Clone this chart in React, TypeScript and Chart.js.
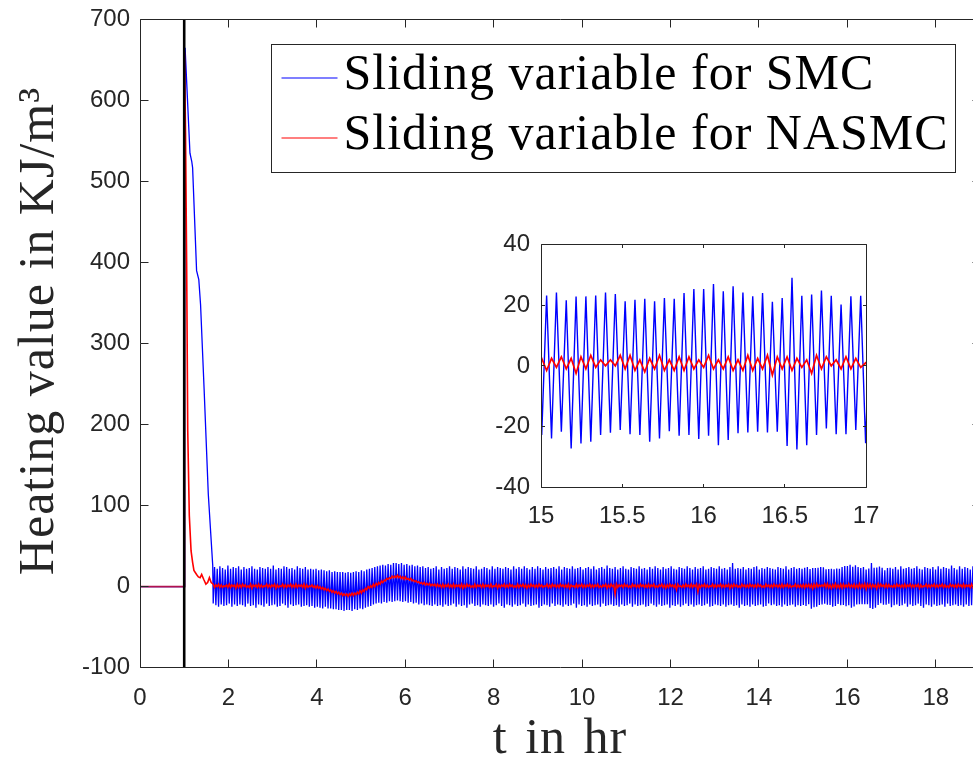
import React, { useEffect, useRef } from 'react';
import { Chart, registerables } from 'chart.js';

Chart.register(...registerables);

// ---------- text ----------
const smcLabel = 'Sliding variable for SMC';
const nasmcLabel = 'Sliding variable for NASMC';
const xTitle = 't in hr';
const yTitle = 'Heating value in KJ/m³';

// ---------- ticks ----------
const mainXTicks = [0, 2, 4, 6, 8, 10, 12, 14, 16, 18];
const mainYTicks = [-100, 0, 100, 200, 300, 400, 500, 600, 700];
const insetXTicks = [15, 15.5, 16, 16.5, 17];
const insetYTicks = [-40, -20, 0, 20, 40];

// ---------- data ----------
// switching instant (vertical black line)
const markerT = 1;

// transient part (t in hr, value)
const smcLeadT = [0, 1.0, 1.01, 1.02, 1.13, 1.17, 1.19, 1.28, 1.33, 1.37, 1.45, 1.545, 1.645];
const smcLeadV = [0, 0, 600, 665, 535, 525, 517, 390, 379, 348, 244, 114, 26];

const nasmcLeadT = [0, 1.0, 1.005, 1.03, 1.055, 1.08, 1.115, 1.155, 1.19, 1.22, 1.28, 1.32, 1.36, 1.395, 1.44, 1.49, 1.53, 1.57, 1.61];
const nasmcLeadV = [0, 0, 660, 560, 400, 192, 88, 44, 30, 20, 15, 12, 11, 15, 9, 3, 5, 11, 5];

// steady part: samples every half-period of the chattering, starting at swingStart
const swingStart = 1.656;
const swingStep = 0.0302;

const smcSwing = [
  -21, 24, -23, 22, -25, 25, -22, 23, -24, 21, -23, 26, -21, 22, -25, 24, -22, 23, -24, 25,
  -22, 21, -23, 24, -25, 22, -21, 23, -24, 25, -23, 22, -26, 21, -22, 24, -23, 23, -25, 22,
  -21, 24, -24, 22, -23, 26, -22, 21, -25, 23, -24, 22, -21, 25, -23, 24, -26, 22, -22, 23,
  -24, 21, -23, 25, -22, 23, -25, 22, -24, 24, -23, 21, -25, 22, -24, 21, -26, 22, -25, 20,
  -26, 21, -27, 20, -25, 19, -27, 20, -27, 18, -28, 19, -28, 18, -29, 18, -29, 18, -30, 17,
  -29, 18, -29, 17, -30, 18, -28, 19, -29, 18, -27, 20, -28, 19, -26, 21, -25, 22, -24, 23,
  -22, 24, -21, 25, -20, 26, -21, 27, -19, 26, -20, 28, -18, 27, -19, 29, -18, 29, -17, 28,
  -18, 29, -19, 27, -18, 28, -20, 26, -19, 27, -21, 25, -20, 26, -22, 24, -21, 25, -23, 23,
  -22, 24, -23, 22, -24, 23, -22, 25, -24, 21, -23, 24, -25, 22, -22, 23, -24, 25, -23, 22,
  -21, 24, -25, 23, -22, 21, -24, 25, -23, 22, -26, 24, -22, 23, -21, 22, -24, 25, -23, 21,
  -25, 22, -22, 24, -23, 23, -24, 21, -22, 25, -25, 22, -23, 24, -21, 23, -24, 22, -26, 24,
  -22, 23, -23, 21, -25, 25, -22, 22, -24, 24, -23, 22, -21, 25, -25, 23, -22, 21, -24, 24,
  -23, 22, -22, 25, -26, 23, -24, 21, -22, 24, -23, 22, -25, 23, -21, 24, -24, 22, -22, 25,
  -23, 21, -25, 24, -22, 23, -24, 22, -23, 25, -21, 22, -26, 23, -22, 24, -24, 21, -23, 23,
  -25, 24, -22, 22, -24, 25, -23, 21, -22, 23, -25, 24, -21, 22, -24, 26, -23, 23, -22, 22,
  -24, 24, -23, 21, -25, 23, -22, 25, -24, 22, -23, 21, -21, 24, -25, 23, -22, 22, -24, 25,
  -23, 22, -22, 23, -25, 21, -24, 24, -21, 22, -23, 25, -25, 23, -22, 21, -24, 24, -23, 22,
  -22, 23, -26, 25, -23, 22, -24, 21, -22, 24, -25, 23, -23, 22, -21, 25, -24, 23, -22, 21,
  -25, 24, -23, 22, -22, 23, -24, 25, -23, 21, -21, 22, -25, 24, -24, 23, -22, 22, -23, 25,
  -24, 22, -22, 23, -25, 21, -23, 24, -22, 29, -24, 22, -23, 23, -26, 22, -22, 24, -24, 21,
  -23, 23, -25, 22, -22, 24, -24, 25, -23, 21, -22, 23, -25, 22, -24, 24, -21, 23, -23, 22,
  -22, 21, -24, 24, -23, 23, -25, 22, -22, 25, -24, 21, -23, 23, -22, 24, -25, 22, -23, 23,
  -24, 22,
  // 15 to 17 hr (inset window)
  -22.8, 23.2, -23.9, 24.2, -21.7, 21.6, -27.2, 22.9, -25.6, 22.9, -25.0, 23.2, -22.8, 24.2, -22.0, 23.7,
  -21.1, 21.3, -22.5, 21.8, -22.8, 22.1, -25.0, 21.3, -23.9, 22.4, -21.5, 22.1, -23.0, 24.0, -22.8, 25.3,
  -24.1, 25.3, -23.0, 27.0, -26.1, 24.6, -24.4, 26.2, -22.2, 24.2, -21.9, 22.9, -21.7, 24.0, -21.9, 21.1,
  -21.7, 22.4, -26.4, 29.0, -27.5, 23.1, -26.1, 23.5, -22.8, 24.8, -20.6, 23.1, -22.5, 20.2, -22.5, 22.9,
  -21.1, 23.1, -25.5,
  22, -23, 24, -22, 21, -24, 25, -23, 22, -21, 23,
  -25, 24, -22, 22, -24, 23, -23, 25, -21, 22, -24, 21, -26, 24, -22, 23, -23, 22, -25, 24,
  -22, 21, -24, 25, -23, 22, -22, 24, -25, 23, -21, 22, -24, 26, -23, 23, -22, 21, -24, 25,
  -23, 22, -25, 24, -22, 23, -24, 21, -23, 25, -26, 22, -22, 24, -23,
];

const nasmcSwing = [
  3, -1, 2, 0, 3, -1, 2, -1, 1, 0, 2, -1, 3, -1, 2, 0, 2, -2, 3, -1,
  2, -1, 3, 0, 2, -1, 1, -1, 3, -2, 2, 0, 2, -1, 3, -1, 2, -1, 1, 0,
  3, -1, 2, -1, 2, 0, 3, -2, 2, -1, 1, 0, 3, -1, 2, -1, 2, 0, 3, -1,
  2, -1, 3, -1, 2, 0, 2, -1, 3, -2, 2, -1, 1, 0, 2, -1, 1, -2, 1, -2,
  0, -3, -1, -4, -2, -5, -3, -6, -4, -7, -5, -8, -6, -9, -7, -10, -8, -11, -9, -11,
  -9, -12, -9, -11, -8, -11, -8, -10, -7, -9, -5, -8, -4, -6, -2, -4, 0, -2, 1, -1,
  3, 0, 4, 2, 5, 3, 7, 5, 8, 7, 10, 9, 11, 10, 13, 11, 13, 11, 14, 11,
  13, 10, 12, 9, 12, 9, 10, 8, 10, 7, 8, 6, 7, 5, 6, 4, 5, 3, 5, 2,
  4, 2, 4, 1, 3, 1, 3, 0, 3, 0, 2, -1, 3, -1, 2, 0, 3, -1, 2, -1,
  3, -1, 2, 0, 2, -1, 3, -2, 2, -1, 3, 0, 2, -1, 1, -1, 3, -1, 2, 0,
  2, -1, 3, -1, 2, 0, 2, -1, 3, -1, 1, 0, 3, -2, 2, -1, 2, 0, 3, -1,
  2, -1, 3, 0, 2, -1, 1, -1, 3, -1, 2, 0, 3, -1, 2, -2, 2, -1, 3, 0,
  2, -1, 2, -1, 3, 0, 2, -1, 1, 0, 3, -1, 2, -1, 3, 0, 2, -1, 2, -1,
  3, 0, 2, -1, 2, -1, 3, -2, 2, 0, 1, -1, 3, -1, 2, 0, 3, -1, 2, -1,
  2, 0, 3, -1, 2, -1, 2, 0, 3, -1, 1, -1, 2, 0, 3, -2, 2, -1, 3, 0,
  2, -9, 3, -1, 2, 0, 2, -1, 3, 0, 2, -1, 1, -1, 3, 0, 2, -1, 2, -1,
  3, 0, 2, -1, 2, -1, 3, -1, 2, 0, 3, -1, 1, -1, 2, 0, 3, -1, 2, -2,
  2, -1, 3, 0, 2, -1, 2, -4, 3, 0, 1, -1, 2, -1, 3, 0, 2, -1, 3, -1,
  2, 0, 3, -6, 2, -1, 2, 0, 3, -1, 2, -1, 1, 0, 3, -1, 2, -1, 2, 0,
  3, -1, 2, -1, 2, 0, 3, -2, 2, -1, 3, 0, 2, -1, 1, -1, 3, 0, 2, -1,
  2, -1, 3, 0, 2, -1, 2, -1, 3, 0, 2, -1, 1, -1, 3, 0, 2, -1, 2, -1,
  3, 0, 2, -1, 2, -1, 3, -1, 2, 0, 3, -1, 2, -1, 1, 0, 3, -1, 2, -1,
  2, -1,
  // 15 to 17 hr (inset window)
  2.5, -1.5, 2.5, -0.5, 3, -1, 2.5, -2.5, 3, -1, 3.5, -0.5, 2, 0, 2, 0,
  3.5, -1, 3.5, -1.5, 2, -2, 2.5, -1, 3.5, -1.5, 2, -1.5, 3, -1.5, 3, -1,
  2, -0.5, 3.5, -1, 2, -1, 3, -1.5, 2, -1.5, 3.5, -1.5, 2.5, -1, 3.5, -3,
  3, -1, 3, -1.5, 2.5, -0.5, 2, -2.5, 3.5, -1, 3, 0, 2, -1, 3, -1,
  2.5, -0.5, 1,
  -1, 2, -1, 3, 0, 2, -1, 2, -1, 3, -1,
  2, 0, 3, -1, 2, -1, 2, 0, 3, -2, 2, -1, 1, 0, 3, -1, 2, -1, 2, 0,
  3, -1, 2, -1, 2, 0, 3, -1, 2, -1, 1, -1, 3, 0, 2, -1, 2, -1, 3, 0,
  2, -1, 3, -1, 2, 0, 2, -1, 3, -1, 2, 0, 3, -1, 2,
];

// ---------- helpers ----------
function buildPoints(leadT: number[], leadV: number[], swing: number[]) {
  const pts = leadT.map((t, i) => ({ x: t, y: leadV[i] }));
  swing.forEach((v, i) => pts.push({ x: swingStart + i * swingStep, y: v }));
  return pts;
}

const AXIS_COLOR = '#262626';
const TICK_FONT = { family: '"Liberation Sans", Arial, sans-serif', size: 24 };
const SERIF = '50px "Liberation Serif", "Times New Roman", serif';

function framePlugin(tickLen: number) {
  return {
    id: 'frame' + tickLen,
    afterDatasetsDraw(chart: any) {
      const { ctx, chartArea: a } = chart;
      const xs = chart.scales.x;
      const ys = chart.scales.y;
      const L = Math.floor(a.left) + 0.5;
      const R = Math.floor(a.right) + 0.5;
      const T = Math.floor(a.top) + 0.5;
      const B = Math.floor(a.bottom) + 0.5;
      ctx.save();
      ctx.strokeStyle = AXIS_COLOR;
      ctx.lineWidth = 1;
      ctx.beginPath();
      ctx.rect(L, T, R - L, B - T);
      xs.ticks.forEach((t: any) => {
        const p = Math.floor(xs.getPixelForValue(t.value)) + 0.5;
        ctx.moveTo(p, B); ctx.lineTo(p, B - tickLen);
        ctx.moveTo(p, T); ctx.lineTo(p, T + tickLen);
      });
      ys.ticks.forEach((t: any) => {
        const p = Math.floor(ys.getPixelForValue(t.value)) + 0.5;
        ctx.moveTo(L, p); ctx.lineTo(L + tickLen, p);
        ctx.moveTo(R, p); ctx.lineTo(R - tickLen, p);
      });
      ctx.stroke();
      ctx.restore();
    },
  };
}

const titlesPlugin = {
  id: 'axisTitles',
  afterDraw(chart: any) {
    const { ctx, chartArea: a } = chart;
    ctx.save();
    ctx.fillStyle = AXIS_COLOR;
    ctx.font = SERIF;
    ctx.textAlign = 'center';
    ctx.textBaseline = 'alphabetic';
    (ctx as any).letterSpacing = '1px';
    (ctx as any).wordSpacing = '4px';
    ctx.fillText(xTitle, (a.left + a.right) / 2, 753);
    (ctx as any).wordSpacing = '0px';
    ctx.translate(53, 331);
    ctx.rotate(-Math.PI / 2);
    ctx.fillText(yTitle, 0, 0);
    ctx.restore();
  },
};

const legendPlugin = {
  id: 'boxLegend',
  afterDraw(chart: any) {
    const { ctx, chartArea: a } = chart;
    const items = chart.data.datasets
      .filter((d: any) => d.legendRank !== undefined)
      .sort((p: any, q: any) => p.legendRank - q.legendRank);
    const L = Math.floor(a.left + 131) + 0.5;
    const R = Math.floor(a.right - 25) + 0.5;
    const T = Math.floor(a.top + 25) + 0.5;
    const B = Math.floor(a.top + 153) + 0.5;
    ctx.save();
    ctx.fillStyle = '#ffffff';
    ctx.fillRect(L, T, R - L, B - T);
    ctx.strokeStyle = AXIS_COLOR;
    ctx.lineWidth = 1;
    ctx.strokeRect(L, T, R - L, B - T);
    ctx.font = SERIF;
    (ctx as any).letterSpacing = '1px';
    ctx.textAlign = 'left';
    ctx.textBaseline = 'alphabetic';
    items.forEach((d: any, i: number) => {
      const y = T + 33.5 + i * 60;
      ctx.strokeStyle = d.borderColor;
      ctx.lineWidth = 1.2;
      ctx.beginPath();
      ctx.moveTo(L + 10, y);
      ctx.lineTo(L + 66, y);
      ctx.stroke();
      ctx.fillStyle = '#000000';
      ctx.fillText(d.label, L + 72, y + 11);
    });
    ctx.restore();
  },
};

function makeDatasets(width: number) {
  return [
    {
      label: nasmcLabel,
      legendRank: 1,
      data: buildPoints(nasmcLeadT, nasmcLeadV, nasmcSwing),
      borderColor: '#ff0000',
      borderWidth: width + 0.3,
      pointRadius: 0,
      order: 1,
      segment: {
        borderColor: (c: any) => (c.p1.parsed.x <= markerT ? '#b0124e' : undefined),
      },
    },
    {
      label: smcLabel,
      legendRank: 0,
      data: buildPoints(smcLeadT, smcLeadV, smcSwing),
      borderColor: '#0000ff',
      borderWidth: width,
      pointRadius: 0,
      order: 2,
    },
  ];
}

function axis(min: number, max: number, ticks: number[], pad: number, fit: (s: any) => void) {
  return {
    type: 'linear' as const,
    min,
    max,
    afterBuildTicks: (s: any) => {
      s.ticks = ticks.map((v) => ({ value: v }));
    },
    afterFit: (s: any) => {
      fit(s);
      s.paddingTop = 0;
      s.paddingBottom = 0;
      s.paddingLeft = 0;
      s.paddingRight = 0;
    },
    grid: { display: false, drawTicks: false },
    border: { display: false },
    ticks: {
      font: TICK_FONT,
      color: AXIS_COLOR,
      padding: pad,
      maxRotation: 0,
      autoSkip: false,
      callback: (v: any) => String(v),
    },
  };
}

export default function App() {
  const mainRef = useRef<HTMLCanvasElement>(null);
  const insetRef = useRef<HTMLCanvasElement>(null);

  useEffect(() => {
    const mainDatasets: any[] = makeDatasets(1.3);
    mainDatasets.push({
      label: 'switch',
      data: [
        { x: markerT, y: mainYTicks[0] },
        { x: markerT, y: mainYTicks[mainYTicks.length - 1] },
      ],
      borderColor: '#000000',
      borderWidth: 2.6,
      pointRadius: 0,
      order: 0,
    });

    const main = new Chart(mainRef.current as HTMLCanvasElement, {
      type: 'line',
      data: { datasets: mainDatasets },
      options: {
        animation: false,
        responsive: false,
        events: [],
        layout: { padding: { top: 19.5, right: 10, left: 0, bottom: 0 } },
        plugins: { legend: { display: false }, tooltip: { enabled: false } },
        scales: {
          x: axis(0, 19, mainXTicks, 16, (s: any) => { s.height = 95.4; }),
          y: axis(-100, 700, mainYTicks, 10, (s: any) => { s.width = 140; }),
        },
      } as any,
      plugins: [framePlugin(8), titlesPlugin, legendPlugin],
    });

    const inset = new Chart(insetRef.current as HTMLCanvasElement, {
      type: 'line',
      data: { datasets: makeDatasets(1.4) as any },
      options: {
        animation: false,
        responsive: false,
        events: [],
        layout: { padding: { top: 19.5, right: 24, left: 0, bottom: 0 } },
        plugins: { legend: { display: false }, tooltip: { enabled: false } },
        scales: {
          x: axis(15, 17, insetXTicks, 15, (s: any) => { s.height = 47.7; }),
          y: axis(-40, 40, insetYTicks, 11, (s: any) => { s.width = 61; }),
        },
      } as any,
      plugins: [framePlugin(3.5)],
    });

    return () => {
      main.destroy();
      inset.destroy();
    };
  }, []);

  return (
    <div
      style={{
        position: 'fixed',
        left: 0,
        top: 0,
        width: 973,
        height: 763,
        overflow: 'hidden',
        background: '#ffffff',
      }}
    >
      <canvas ref={mainRef} width={990} height={763} style={{ position: 'absolute', left: 0, top: 0 }} />
      <canvas ref={insetRef} width={410} height={310} style={{ position: 'absolute', left: 480, top: 225 }} />
    </div>
  );
}
